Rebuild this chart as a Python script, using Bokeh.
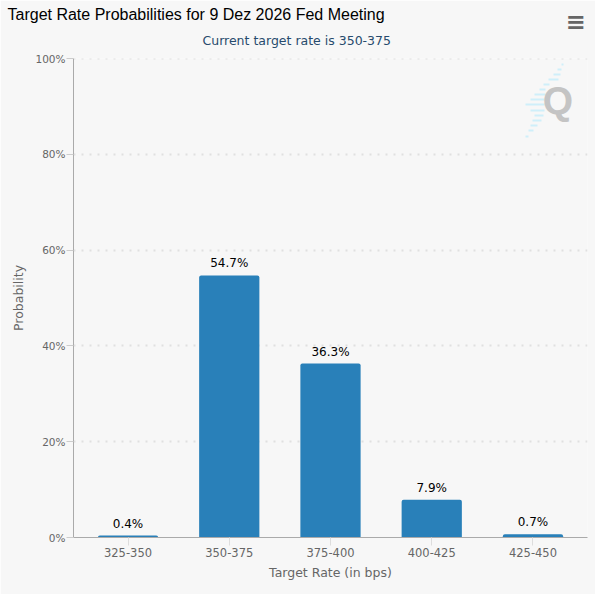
from bokeh.plotting import figure
from bokeh.embed import file_html
from bokeh.resources import INLINE
from bokeh.core.properties import value
from bokeh.models import (ColumnDataSource, Label, LabelSet, BoxAnnotation, FixedTicker,
                          Span, CustomJSTickFormatter, Title)

categories = ["325-350", "350-375", "375-400", "400-425", "425-450"]
values = [0.4, 54.7, 36.3, 7.9, 0.7]
y_ticks = [0, 20, 40, 60, 80, 100]
title_text = "Target Rate Probabilities for 9 Dez 2026 Fed Meeting"
subtitle_text = "Current target rate is 350-375"

BG = "#f7f7f7"
W, H = 595, 594
LEFT, TOP, RIGHT, BOTTOM = 73, 58, 8, 57

def fx(x):  # page x -> frame-relative screen x
    return x - LEFT

def fy(y):  # page y -> frame-relative screen y (measured up from frame bottom)
    return (H - BOTTOM) - y

p = figure(x_range=categories, y_range=(0, 100), width=W, height=H,
           output_backend="svg", toolbar_location=None,
           background_fill_color=BG, border_fill_color=BG,
           min_border_left=LEFT, min_border_top=TOP, min_border_right=RIGHT, min_border_bottom=BOTTOM)
p.outline_line_color = None
p.x_range.range_padding_units = "absolute"
p.x_range.range_padding = 0.0385

src = ColumnDataSource(dict(cat=categories, val=values,
                            txt=[f"{v:.1f}%" for v in values]))
p.vbar(x="cat", top="val", width=0.595, bottom=0, source=src, fill_color="#2980b9",
       line_color=None, border_radius=(2, 2, 0, 0))
p.add_layout(LabelSet(x="cat", y="val", text="txt", source=src, text_align="center",
                      text_baseline="bottom", y_offset=5, text_color="#000000",
                      text_font=value("DejaVu Sans"), text_font_size="12px"))

GRID = dict(line_color="#e0e0e0", line_dash=[2, 6], line_width=2)
p.xgrid.grid_line_color = None
p.ygrid.ticker = FixedTicker(ticks=y_ticks)
p.ygrid.grid_line_color = GRID["line_color"]
p.ygrid.grid_line_dash = GRID["line_dash"]
p.ygrid.grid_line_width = GRID["line_width"]
p.add_layout(Span(location=y_ticks[-1], dimension="width", level="underlay", **GRID))

p.yaxis.ticker = FixedTicker(ticks=y_ticks)
p.yaxis.formatter = CustomJSTickFormatter(code="return tick + '%'")
p.yaxis.axis_label = "Probability"
p.xaxis.axis_label = "Target Rate (in bps)"
for ax in (p.xaxis, p.yaxis):
    ax.axis_line_color = "#aaaaaa"
    ax.major_tick_in = 0
    ax.minor_tick_line_color = None
    ax.major_label_text_font = "DejaVu Sans"
    ax.major_label_text_color = "#666666"
    ax.axis_label_text_font = "DejaVu Sans"
    ax.axis_label_text_font_size = "12.5px"
    ax.axis_label_text_font_style = "normal"
    ax.axis_label_text_color = "#666666"
p.yaxis.major_label_text_font_size = "10.5px"
p.xaxis.major_label_text_font_size = "11.5px"
p.yaxis.major_tick_out = 7
p.yaxis.major_label_standoff = 1
p.yaxis.axis_label_standoff = 6
p.yaxis.major_tick_line_color = "#cccccc"
p.xaxis.major_tick_out = 8
p.xaxis.major_label_standoff = 2
p.xaxis.axis_label_standoff = 5
p.xaxis.major_tick_line_color = "#dddddd"

p.title = None
p.add_layout(Title(text=subtitle_text, align="left", offset=129, standoff=22,
                   text_font="DejaVu Sans", text_font_size="12.5px", text_font_style="normal",
                   text_color="#274b6d"), "above")
p.add_layout(Title(text=title_text, align="left", offset=-66, standoff=-6,
                   text_font="Liberation Sans", text_font_size="16px", text_font_style="normal",
                   text_color="#000000"), "above")

# logo stripes: (row centre y on page, left x, right x on page)
stripes = [(64, 561, 563), (69, 557, 561), (74, 553, 560), (79, 548, 558), (84, 543, 549),
           (89, 539, 545), (94, 534, 545), (99, 530, 544), (104, 525, 544), (110, 530, 544),
           (115, 534, 543), (120, 532, 541), (125, 530, 537), (130, 528, 533), (136, 525, 528)]
for sy, x0, x1 in stripes:
    p.add_layout(BoxAnnotation(left=fx(x0), right=fx(x1), top=fy(sy) + 1, bottom=fy(sy) - 1,
                               left_units="screen", right_units="screen", top_units="screen",
                               bottom_units="screen", fill_color="#cfeffa", fill_alpha=1,
                               line_color=None, level="overlay"))
p.add_layout(Label(x=fx(557.5), y=fy(100), x_units="screen", y_units="screen", text="Q",
                   text_align="center", text_baseline="alphabetic",
                   text_font="Liberation Sans", text_font_style="bold",
                   text_font_size="39px", text_color="#c4c4c4", level="overlay"))

# menu icon
p.add_layout(Title(text="\u2261", align="right", offset=2, standoff=-58.5,
                   text_font="DejaVu Sans", text_font_size="24px", text_font_style="bold",
                   text_color="#666666"), "above")

open("out.html", "w").write(file_html(p, INLINE))
